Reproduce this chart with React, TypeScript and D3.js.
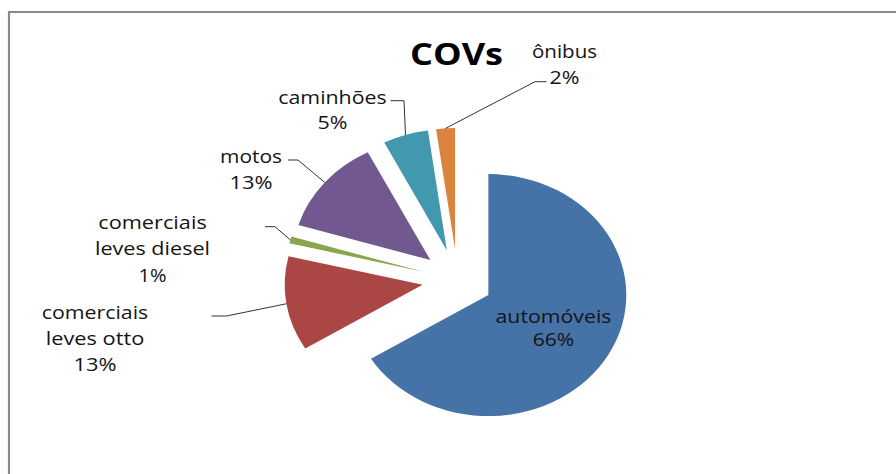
import React from "react";
import * as d3 from "d3";

// ---- data ----
const categories = [
  "automóveis",
  "comerciais leves otto",
  "comerciais leves diesel",
  "motos",
  "caminhões",
  "ônibus",
];
const values = [66.2, 12.6, 0.9, 12.8, 5.3, 2.2];
const labelLines = [
  ["automóveis"],
  ["comerciais", "leves otto"],
  ["comerciais", "leves diesel"],
  ["motos"],
  ["caminhões"],
  ["ônibus"],
];
const title = "COVs";

// ---- styles / layout ----
const colors = ["#4572A7", "#AA4643", "#89A54E", "#71588F", "#4198AF", "#DB843D"];
const W = 896;
const H = 474;
const cx = 457.5;
const cy = 280;
const radius = 121;
const stretchX = 1.14;
const explode = 31;
const fontFamily = "'Open Sans', 'Noto Sans', sans-serif";

// label placement: center x, first baseline y, line height, textLength per line (names..., percent)
const labelLayout = [
  { x: 553.5, y: 322.5, lineH: 23.5, widths: [116, 41.5] },
  { x: 95, y: 318.5, lineH: 26.2, widths: [106.5, 98.5, 43] },
  { x: 152.5, y: 228.8, lineH: 26.6, widths: [108.5, 115, 28] },
  { x: 251, y: 162.8, lineH: 26, widths: [62, 43] },
  { x: 332.5, y: 103.5, lineH: 25.2, widths: [108.5, 30] },
  { x: 564.5, y: 58.3, lineH: 25.3, widths: [65, 30] },
];
// leader stubs: [stub start x, elbow x, y]; null = no leader
const leaderLayout: ([number, number, number] | null)[] = [
  null,
  [211.5, 226.5, 316],
  [265, 275, 226.7],
  [288, 298, 160],
  [390.5, 404, 100.7],
  [546.5, 535, 81.7],
];

export default function App() {
  const total = d3.sum(values);
  const pie = d3
    .pie<number>()
    .sort(null)
    .value((d) => d)
    .startAngle(0)
    .endAngle(2 * Math.PI);
  const arcs = pie(values);
  const arc = d3.arc<d3.PieArcDatum<number>>().innerRadius(0).outerRadius(radius);

  const slices = arcs.map((a, i) => {
    const mid = (a.startAngle + a.endAngle) / 2;
    const dx = Math.sin(mid) * explode;
    const dy = -Math.cos(mid) * explode;
    const outer = {
      x: cx + Math.sin(mid) * (explode + radius) * stretchX,
      y: cy - Math.cos(mid) * (explode + radius),
    };
    return { a, i, dx, dy, outer };
  });

  return (
    <svg
      width={W}
      height={H}
      style={{ position: "fixed", left: 0, top: 0, background: "#fff" }}
      fontFamily={fontFamily}
    >
      <rect x={0} y={0} width={W} height={H} fill="#fff" />
      <path d={`M9,${H + 5} V12 H${W + 5}`} fill="none" stroke="#8a8a8a" strokeWidth={2.2} />

      <text
        x={456.5}
        y={65}
        textAnchor="middle"
        fontSize={31}
        fontWeight="bold"
        fill="#000"
        textLength={93}
        lengthAdjust="spacingAndGlyphs"
      >
        {title}
      </text>

      <g transform={`translate(${cx},${cy}) scale(${stretchX},1)`}>
        {slices.map((s) => (
          <path
            key={categories[s.i]}
            d={arc(s.a) || ""}
            transform={`translate(${s.dx},${s.dy})`}
            fill={colors[s.i]}
          />
        ))}
      </g>

      {slices.map((s) => {
        const L = leaderLayout[s.i];
        if (!L) return null;
        return (
          <polyline
            key={"l" + s.i}
            points={`${L[0]},${L[2]} ${L[1]},${L[2]} ${s.outer.x},${s.outer.y}`}
            fill="none"
            stroke="#333"
            strokeWidth={1}
          />
        );
      })}

      {slices.map((s) => {
        const lay = labelLayout[s.i];
        const pct = Math.round((values[s.i] / total) * 100) + "%";
        const lines = [...labelLines[s.i], pct];
        return (
          <g key={"t" + s.i}>
            {lines.map((t, j) => (
              <text
                key={j}
                x={lay.x}
                y={lay.y + j * lay.lineH}
                textAnchor="middle"
                fontSize={18.5}
                fill="#141414"
                textLength={lay.widths[j]}
                lengthAdjust="spacingAndGlyphs"
              >
                {t}
              </text>
            ))}
          </g>
        );
      })}
    </svg>
  );
}
